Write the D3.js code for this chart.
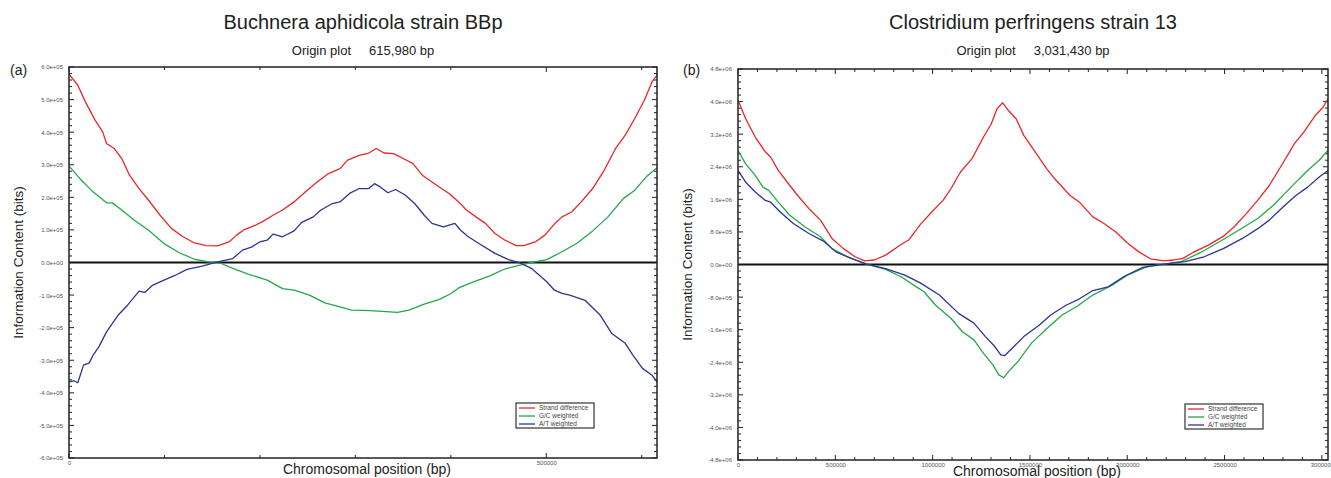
<!DOCTYPE html>
<html>
<head>
<meta charset="utf-8">
<script src="https://cdn.jsdelivr.net/npm/d3@7"></script>
<style>
  html, body { margin: 0; padding: 0; background: #fff; }
  svg { display: block; font-family: "Liberation Sans", Arial, sans-serif; }
</style>
</head>
<body>
<svg id="chart" width="1331" height="478"></svg>
<script>
// ---------------- DATA ----------------
const seriesNames = ["Strand difference", "G/C weighted", "A/T weighted"];
const seriesColors = ["#e8262a", "#22a84a", "#2b3590"];

// Panel (a): Buchnera aphidicola strain BBp, 615,980 bp  [position bp, bits]
const genomeA = 615980;
const strandA = [[0,578000],[9200,544000],[17200,493000],[27300,437000],[35300,401000],[39300,365000],[47300,350000],[55300,319000],[63400,268000],[73400,227000],[83400,191000],[95400,145000],[107500,104000],[119500,79000],[131500,60000],[143600,52000],[155600,51000],[167600,63000],[175600,84000],[183700,101000],[195700,115000],[203700,127000],[213700,145000],[223800,161000],[235800,186000],[247800,217000],[259900,247000],[271900,273000],[283900,288000],[291900,314000],[304000,329000],[314000,336000],[322000,350000],[330000,336000],[340100,334000],[352100,316000],[360100,304000],[370100,268000],[380200,247000],[390200,227000],[398200,212000],[408200,186000],[416300,161000],[426300,140000],[436300,120000],[446300,89000],[456400,69000],[468400,52000],[476400,52000],[488400,63000],[498500,84000],[508500,118000],[516500,140000],[526500,155000],[536600,186000],[548600,227000],[560600,283000],[572600,350000],[582700,391000],[592700,442000],[602700,498000],[610800,554000],[615980,575000]];
const gcA = [[0,296000],[11230,258000],[23260,222000],[39300,183000],[45320,183000],[55300,161000],[67370,132000],[83400,99000],[99450,58000],[115500,30000],[131500,10000],[147580,1000],[159610,-3000],[171640,-18000],[187680,-36000],[207730,-54000],[223800,-80000],[235800,-85000],[251850,-100000],[267890,-124000],[283900,-136000],[295960,-146000],[316010,-148000],[332050,-151000],[344080,-153000],[356110,-146000],[372150,-128000],[388190,-113000],[400230,-95000],[408200,-78000],[424290,-59000],[440330,-42000],[456400,-20000],[472410,-8000],[484440,0],[500490,9000],[516500,33000],[532570,60000],[548600,97000],[564650,140000],[580690,196000],[592700,222000],[604750,263000],[615980,291000]];
const atA = [[0,-366000],[5210,-363000],[9200,-369000],[15240,-315000],[21250,-308000],[25260,-284000],[31280,-259000],[39300,-213000],[51330,-162000],[61360,-131000],[73400,-88000],[79400,-92000],[87420,-70000],[99450,-54000],[111490,-39000],[123520,-21000],[139560,-11000],[155600,2000],[171600,12000],[181670,38000],[191690,48000],[199710,63000],[207730,69000],[213700,87000],[223800,79000],[235800,97000],[243820,123000],[255860,140000],[263880,161000],[275910,181000],[283900,186000],[293950,212000],[304000,227000],[314000,227000],[320020,242000],[326040,232000],[334060,214000],[342080,224000],[352100,207000],[362130,181000],[372150,145000],[380200,120000],[392210,109000],[404240,120000],[410250,99000],[418270,79000],[432310,53000],[446300,28000],[460380,9000],[472400,-1000],[484400,-18000],[500500,-59000],[508500,-85000],[516500,-95000],[524540,-100000],[540580,-116000],[556630,-162000],[568660,-218000],[582700,-248000],[590720,-284000],[600750,-325000],[610800,-346000],[615980,-366000]];

// Panel (b): Clostridium perfringens strain 13, 3,031,430 bp  [position bp, bits]
const genomeB = 3031430;
const strandB = [[0,4040000],[39400,3580000],[88700,3130000],[138000,2780000],[167500,2640000],[207000,2310000],[266100,1940000],[305500,1700000],[364600,1370000],[423800,1090000],[482900,640000],[542000,390000],[601200,190000],[650400,90000],[699700,110000],[758800,230000],[837700,490000],[877100,600000],[936200,980000],[995400,1290000],[1054500,1580000],[1093900,1860000],[1143200,2270000],[1202300,2600000],[1261400,3130000],[1300900,3450000],[1330400,3820000],[1360000,3970000],[1389600,3780000],[1429000,3580000],[1468400,3170000],[1527500,2760000],[1586700,2350000],[1626100,2110000],[1704900,1700000],[1754200,1530000],[1823200,1170000],[1882300,1000000],[1941400,800000],[2000600,530000],[2059700,310000],[2118800,140000],[2187800,90000],[2237100,110000],[2286400,150000],[2335600,290000],[2414500,470000],[2493300,690000],[2552400,940000],[2611600,1250000],[2670700,1580000],[2729800,1940000],[2808700,2560000],[2858000,2960000],[2907200,3250000],[2966400,3660000],[3005800,3860000],[3031430,4070000]];
const gcB = [[0,2800000],[39400,2470000],[88700,2190000],[128100,1900000],[157700,1820000],[207000,1530000],[266100,1210000],[344900,920000],[423800,680000],[482900,390000],[561700,190000],[660300,10000],[758800,-120000],[837700,-300000],[916500,-550000],[955900,-670000],[1015100,-1000000],[1093900,-1320000],[1153000,-1650000],[1212200,-1850000],[1261400,-2180000],[1310700,-2470000],[1340300,-2710000],[1365900,-2780000],[1389600,-2630000],[1438800,-2380000],[1507800,-1930000],[1586700,-1570000],[1665500,-1240000],[1744300,-1020000],[1823200,-750000],[1921700,-510000],[2000600,-260000],[2099100,-60000],[2187800,10000],[2276500,70000],[2375100,290000],[2473600,560000],[2572200,840000],[2670700,1130000],[2749500,1450000],[2808700,1740000],[2858000,1980000],[2926900,2310000],[2986100,2560000],[3031430,2800000]];
const atB = [[0,2310000],[39400,2020000],[88700,1780000],[138000,1580000],[167500,1530000],[216800,1290000],[285800,1000000],[364600,760000],[443500,560000],[502600,310000],[581400,150000],[660300,10000],[758800,-100000],[857400,-260000],[936200,-450000],[1034800,-750000],[1133300,-1200000],[1212200,-1440000],[1271300,-1770000],[1320600,-2020000],[1350100,-2220000],[1369800,-2240000],[1399400,-2100000],[1468400,-1770000],[1547200,-1490000],[1606400,-1240000],[1685200,-1000000],[1744300,-870000],[1823200,-640000],[1902000,-550000],[1980900,-300000],[2079400,-70000],[2187800,10000],[2296200,70000],[2394800,190000],[2493300,390000],[2591900,640000],[2670700,880000],[2729800,1090000],[2808700,1450000],[2867800,1700000],[2926900,1900000],[2986100,2150000],[3031430,2310000]];

// Axis ranges and tick steps
const yDomainA = [-600000, 600000], yMajorA = 100000, yMinorA = 20000;
const yDomainB = [-4800000, 4800000], yMajorB = 800000, yMinorB = 160000;
const xMajor = 500000, xMinor = 100000;

const titleA = "Buchnera aphidicola strain BBp";
const subtitleA = "Origin plot\u00a0\u00a0\u00a0\u00a0\u00a0615,980 bp";
const titleB = "Clostridium perfringens strain 13";
const subtitleB = "Origin plot\u00a0\u00a0\u00a0\u00a0\u00a03,031,430 bp";

// ---------------- DRAW ----------------
const svg = d3.select("#chart");

function expFmt(v) {
  const s = d3.format(".1e")(v).replace("\u2212", "-");
  return s.replace(/e([+-])(\d)$/, "e$10$2");
}

function drawPanel(p) {
  const g = svg.append("g");
  const x = d3.scaleLinear().domain([0, p.genome]).range([p.left, p.right]);
  const y = d3.scaleLinear().domain(p.yDomain).range([p.bottom, p.top]);

  const clipId = "clip" + p.tag;
  svg.append("clipPath").attr("id", clipId).append("rect")
    .attr("x", p.left).attr("y", p.top).attr("width", p.right - p.left).attr("height", p.bottom - p.top);

  // titles
  const cx = (p.left + p.right) / 2;
  g.append("text").attr("x", cx).attr("y", 29).attr("text-anchor", "middle")
    .attr("font-size", 20).attr("fill", "#222").text(p.title);
  g.append("text").attr("x", cx).attr("y", 55).attr("text-anchor", "middle")
    .attr("font-size", 13).attr("fill", "#222").text(p.subtitle);
  g.append("text").attr("x", p.labelX).attr("y", 75)
    .attr("font-size", 14).attr("fill", "#222").text(p.label);

  // y axis label
  g.append("text").attr("transform", `translate(${p.yTitleX},${(p.top + p.bottom) / 2}) rotate(-90)`)
    .attr("text-anchor", "middle").attr("font-size", 13.5).attr("fill", "#222")
    .text("Information Content (bits)");
  // x axis label
  g.append("text").attr("x", cx + 4).attr("y", p.xTitleY).attr("text-anchor", "middle")
    .attr("font-size", 14).attr("fill", "#222").text("Chromosomal position (bp)");

  // ticks
  const yMinorTicks = d3.range(p.yDomain[0], p.yDomain[1] + 1, p.yMinor);
  const yMajorTicks = d3.range(p.yDomain[0], p.yDomain[1] + 1, p.yMajor);
  const xMinorTicks = d3.range(0, p.genome, xMinor);
  const xMajorTicks = d3.range(0, p.genome, xMajor);

  const axisL = d3.axisLeft(y).tickValues(yMajorTicks).tickSize(0).tickPadding(6).tickFormat(expFmt);
  const gl = g.append("g").attr("transform", `translate(${p.left},0)`).call(axisL);
  gl.select(".domain").remove();
  gl.selectAll("text").attr("font-size", 6).attr("fill", "#555")
    .attr("font-family", "'Liberation Sans', Arial, sans-serif");

  const axisB = d3.axisBottom(x).tickValues(xMajorTicks).tickSize(0).tickPadding(3).tickFormat(d3.format("d"));
  const gb = g.append("g").attr("transform", `translate(0,${p.bottom})`).call(axisB);
  gb.select(".domain").remove();
  gb.selectAll("text").attr("font-size", 6).attr("fill", "#555")
    .attr("font-family", "'Liberation Sans', Arial, sans-serif");

  const tk = g.append("g").attr("stroke", "#222").attr("stroke-width", 1);
  yMinorTicks.forEach(v => {
    const major = Math.abs((v - p.yDomain[0]) % p.yMajor) < 1;
    const len = major ? 5 : 3;
    tk.append("line").attr("x1", p.left).attr("x2", p.left + len).attr("y1", y(v)).attr("y2", y(v));
    tk.append("line").attr("x1", p.right).attr("x2", p.right - len).attr("y1", y(v)).attr("y2", y(v));
  });
  xMinorTicks.forEach(v => {
    const major = v % xMajor === 0;
    const len = major ? 5 : 3;
    tk.append("line").attr("x1", x(v)).attr("x2", x(v)).attr("y1", p.bottom).attr("y2", p.bottom - len);
    tk.append("line").attr("x1", x(v)).attr("x2", x(v)).attr("y1", p.top).attr("y2", p.top + len);
  });

  // zero line
  g.append("line").attr("x1", p.left).attr("x2", p.right).attr("y1", y(0)).attr("y2", y(0))
    .attr("stroke", "#111").attr("stroke-width", 2);

  // series lines
  const line = d3.line().x(d => x(d[0])).y(d => y(d[1]));
  p.series.forEach((s, i) => {
    g.append("path").datum(s).attr("d", line).attr("fill", "none")
      .attr("stroke", seriesColors[i]).attr("stroke-width", 1.3)
      .attr("stroke-linejoin", "round").attr("clip-path", `url(#${clipId})`);
  });

  // frame
  g.append("rect").attr("x", p.left).attr("y", p.top).attr("width", p.right - p.left)
    .attr("height", p.bottom - p.top).attr("fill", "none").attr("stroke", "#222").attr("stroke-width", 1.5);

  // legend
  const lg = g.append("g");
  lg.append("rect").attr("x", p.legX).attr("y", p.legY).attr("width", 78).attr("height", 25)
    .attr("fill", "#fff").attr("stroke", "#333").attr("stroke-width", 1.2);
  seriesNames.forEach((n, i) => {
    const yy = p.legY + 5 + i * 8;
    lg.append("line").attr("x1", p.legX + 3).attr("x2", p.legX + 19).attr("y1", yy).attr("y2", yy)
      .attr("stroke", seriesColors[i]).attr("stroke-width", 1.3);
    lg.append("text").attr("x", p.legX + 23).attr("y", yy).attr("dy", "0.35em")
      .attr("font-size", 6.5).attr("fill", "#444").text(n);
  });
}

drawPanel({
  tag: "A", genome: genomeA, yDomain: yDomainA, yMajor: yMajorA, yMinor: yMinorA,
  left: 69, right: 657, top: 67, bottom: 458,
  title: titleA, subtitle: subtitleA, label: "(a)", labelX: 10, yTitleX: 22.5, xTitleY: 474,
  series: [strandA, gcA, atA], legX: 516, legY: 403
});
drawPanel({
  tag: "B", genome: genomeB, yDomain: yDomainB, yMajor: yMajorB, yMinor: yMinorB,
  left: 738, right: 1328, top: 69, bottom: 460,
  title: titleB, subtitle: subtitleB, label: "(b)", labelX: 683, yTitleX: 692, xTitleY: 476,
  series: [strandB, gcB, atB], legX: 1185, legY: 404
});
</script>
</body>
</html>
